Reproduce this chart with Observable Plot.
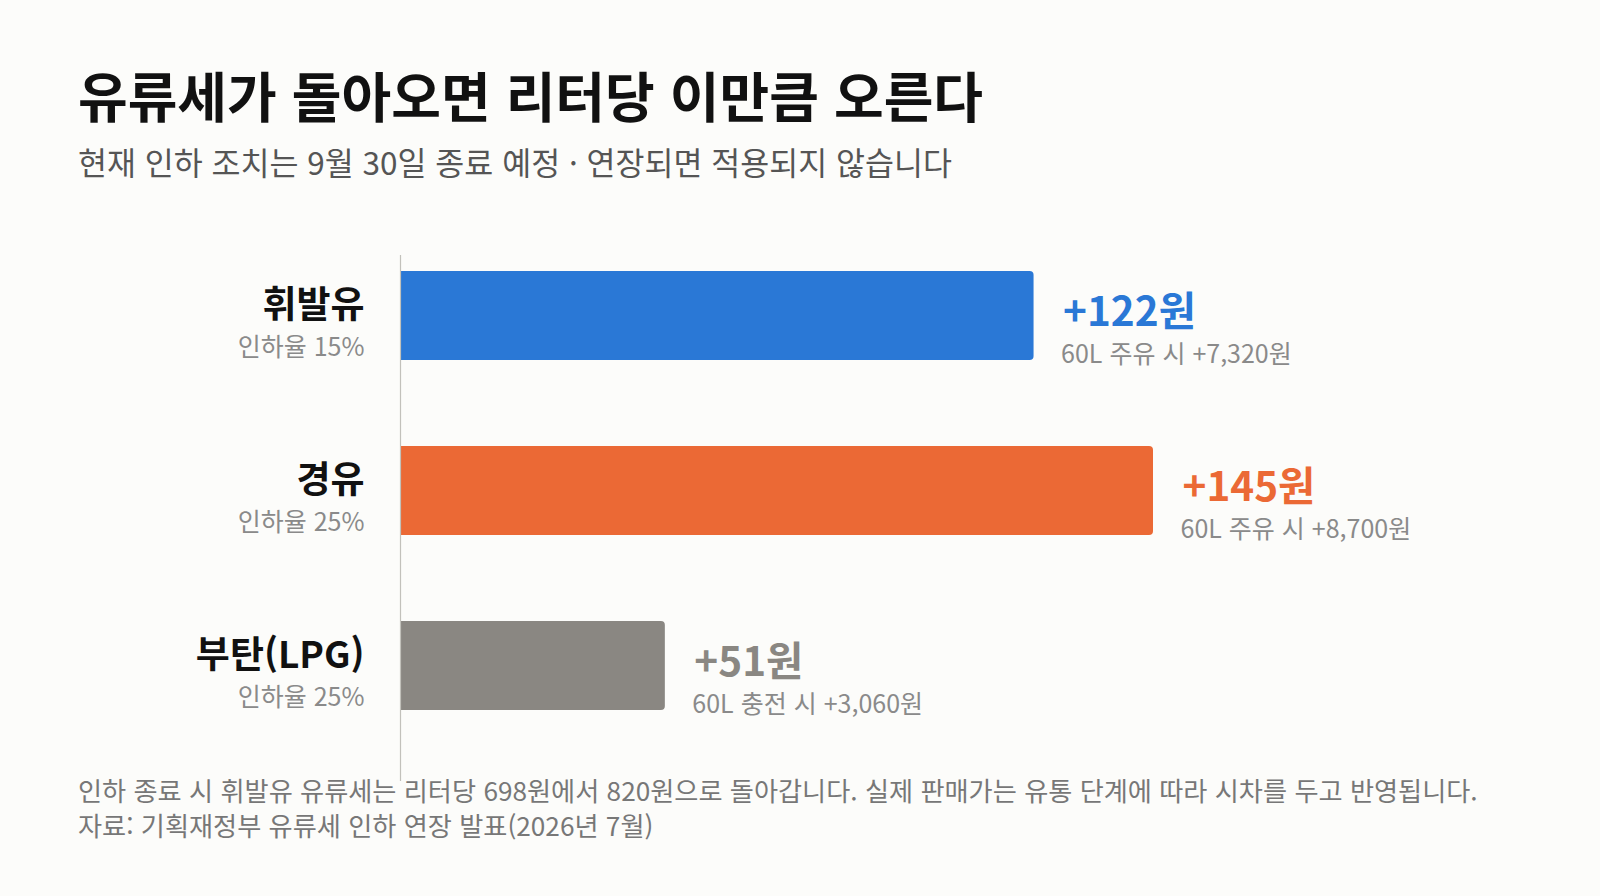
<!DOCTYPE html>
<html lang="ko">
<head>
<meta charset="utf-8">
<script src="https://cdn.jsdelivr.net/npm/d3@7"></script>
<script src="https://cdn.jsdelivr.net/npm/@observablehq/plot@0.6"></script>
<style>
  html, body { margin: 0; padding: 0; background: #fcfcfa; }
  body { width: 1600px; height: 896px; position: relative; overflow: hidden;
         font-family: "Noto Sans CJK KR", "Noto Sans", sans-serif; }
  .t { position: absolute; left: 78px; line-height: 1; white-space: nowrap; }
  #title { top: 67.5px; font-size: 54px; font-weight: 700; color: #111; }
  #subtitle { top: 146px; font-size: 31.5px; color: #555; }
  #chart { position: absolute; left: 0; top: 255px; }
  #caption1 { top: 777px; font-size: 26.2px; color: #777; }
  #caption2 { top: 812px; font-size: 26.2px; color: #777; }
</style>
</head>
<body>
<div class="t" id="title">유류세가 돌아오면 리터당 이만큼 오른다</div>
<div class="t" id="subtitle">현재 인하 조치는 9월 30일 종료 예정 · 연장되면 적용되지 않습니다</div>
<div id="chart"></div>
<div class="t" id="caption1">인하 종료 시 휘발유 유류세는 리터당 698원에서 820원으로 돌아갑니다. 실제 판매가는 유통 단계에 따라 시차를 두고 반영됩니다.</div>
<div class="t" id="caption2">자료: 기획재정부 유류세 인하 연장 발표(2026년 7월)</div>
<script>
const fuels = ["휘발유", "경유", "부탄(LPG)"];
const increases = [122, 145, 51];
const cutRates = ["인하율 15%", "인하율 25%", "인하율 25%"];
const fillLabels = ["60L 주유 시 +7,320원", "60L 주유 시 +8,700원", "60L 충전 시 +3,060원"];
const colors = ["#2a78d6", "#eb6935", "#8a8782"];

const data = fuels.map((f, i) => ({
  fuel: f, value: increases[i], rate: cutRates[i], fill: fillLabels[i], color: colors[i]
}));

const font = "Noto Sans CJK KR";
const chart = Plot.plot({
  width: 1600,
  height: 526,
  marginLeft: 400,
  marginRight: 447,
  marginTop: 0,
  marginBottom: 0,
  style: { background: "transparent", fontFamily: font, overflow: "visible" },
  x: { domain: [0, 145], axis: null },
  y: { domain: fuels, axis: null, paddingInner: 0.49, paddingOuter: 0.2443, align: 0.179 },
  marks: [
    Plot.barX(data, { x: "value", y: "fuel", fill: "color", rx2: 4, rx: 0 }),
    Plot.ruleX([0], { stroke: "#c2c1bb", strokeWidth: 1.2 }),
    Plot.text(data, { x: 0, y: "fuel", text: "fuel", dx: -36, dy: -10, textAnchor: "end",
      fontSize: 37, fontWeight: "bold", fill: "#111" }),
    Plot.text(data, { x: 0, y: "fuel", text: "rate", dx: -36, dy: 32, textAnchor: "end",
      fontSize: 25, fill: "#8a8a8a" }),
    Plot.text(data, { x: "value", y: "fuel", text: d => `+${d.value}원`, dx: 29, dy: -3,
      textAnchor: "start", fontSize: 40.5, fontWeight: "bold", fill: "color" }),
    Plot.text(data, { x: "value", y: "fuel", text: "fill", dx: 27, dy: 39,
      textAnchor: "start", fontSize: 25, fill: "#8a8a8a" })
  ]
});
document.getElementById("chart").appendChild(chart);
</script>
</body>
</html>
